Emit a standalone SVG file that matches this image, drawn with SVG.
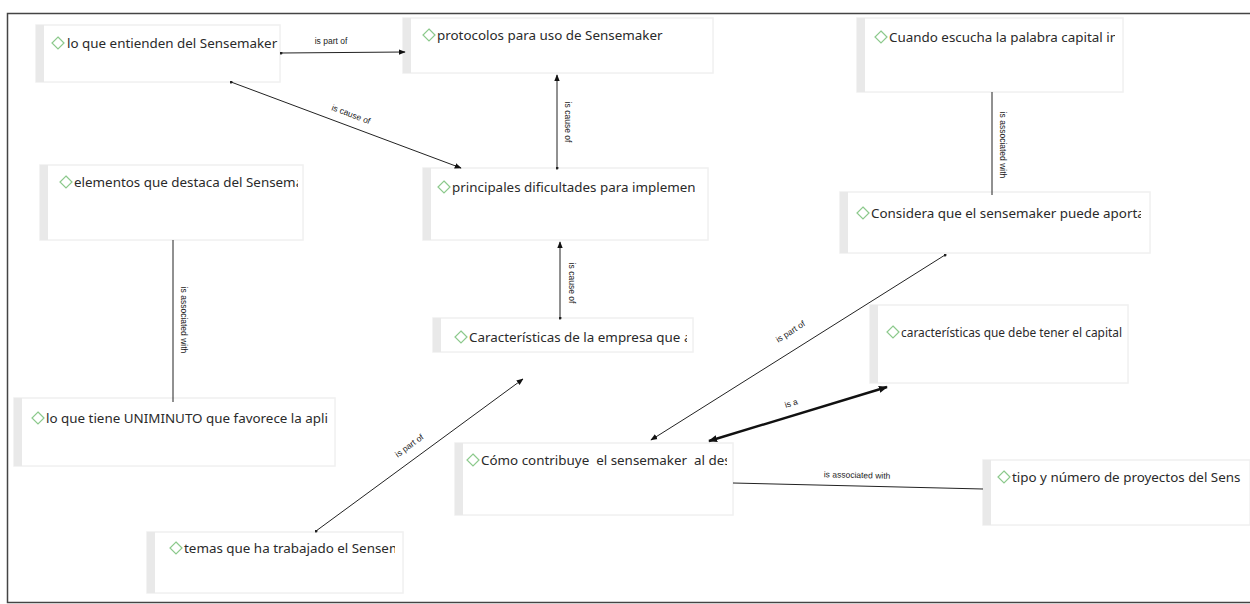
<svg xmlns="http://www.w3.org/2000/svg" width="1250" height="604" viewBox="0 0 1250 604">
  <style>
    .box { fill: #ffffff; stroke: #f0f0f0; stroke-width: 1.5; }
    .strip { fill: #e9e9e9; }
    .dia { fill: none; stroke: #8cc98c; stroke-width: 1.2; }
    .lbl { font-family: "Noto Sans", "Open Sans", sans-serif; font-size: 13.4px; fill: #2a2a2a; white-space: pre; }
    .edge { stroke: #222222; stroke-width: 1; fill: none; }
    .edge-bold { stroke: #111111; stroke-width: 2.4; fill: none; }
    .elbl { font-family: "Liberation Sans", Arial, sans-serif; font-size: 8.5px; fill: #222222; }
  </style>
  <defs>
    <marker id="arrow" viewBox="0 0 10 10" refX="9" refY="5" markerWidth="7" markerHeight="7" orient="auto" markerUnits="userSpaceOnUse">
      <path d="M0,1 L10,5 L0,9 z" fill="#111111"/>
    </marker>
    <marker id="arrowBig" viewBox="0 0 10 10" refX="9" refY="5" markerWidth="9" markerHeight="9" orient="auto-start-reverse" markerUnits="userSpaceOnUse">
      <path d="M0,1 L10,5 L0,9 z" fill="#111111"/>
    </marker>
    <marker id="dot" viewBox="0 0 4 4" refX="2" refY="2" markerWidth="3" markerHeight="3" markerUnits="userSpaceOnUse">
      <circle cx="2" cy="2" r="2" fill="#222222"/>
    </marker>
    <path id="diamond" d="M0,-6 L6,0 L0,6 L-6,0 z"/>
    <clipPath id="c1"><rect x="36" y="25" width="243" height="57"/></clipPath>
    <clipPath id="c2"><rect x="403" y="18" width="300" height="55"/></clipPath>
    <clipPath id="c3"><rect x="423" y="168" width="272" height="72"/></clipPath>
    <clipPath id="c4"><rect x="857" y="18" width="258" height="74"/></clipPath>
    <clipPath id="c5"><rect x="840" y="192" width="301" height="61"/></clipPath>
    <clipPath id="c6"><rect x="40" y="165" width="258" height="75"/></clipPath>
    <clipPath id="c7"><rect x="14" y="398" width="315" height="68"/></clipPath>
    <clipPath id="c8"><rect x="433" y="318" width="254" height="34"/></clipPath>
    <clipPath id="c9"><rect x="870" y="305" width="256" height="78"/></clipPath>
    <clipPath id="c10"><rect x="455" y="443" width="272" height="72"/></clipPath>
    <clipPath id="c11"><rect x="983" y="460" width="264" height="65"/></clipPath>
    <clipPath id="c12"><rect x="147" y="532" width="248" height="61"/></clipPath>
  </defs>

  <!-- canvas frame -->
  <rect x="0" y="0" width="1250" height="604" fill="#ffffff"/>
  <path d="M1250,13.5 H7.5 V602.5 H1250" fill="none" stroke="#444444" stroke-width="1.5"/>

  <!-- nodes -->
  <g id="n1">
    <rect class="box" x="36" y="25" width="244" height="57"/>
    <rect class="strip" x="36" y="25" width="8" height="57"/>
    <use href="#diamond" class="dia" x="58" y="43"/>
    <text class="lbl" x="67" y="48" clip-path="url(#c1)">lo que entienden del Sensemaker</text>
  </g>
  <g id="n2">
    <rect class="box" x="403" y="18" width="310" height="55"/>
    <rect class="strip" x="403" y="18" width="8" height="55"/>
    <use href="#diamond" class="dia" x="429" y="35"/>
    <text class="lbl" x="437" y="40" clip-path="url(#c2)">protocolos para uso de Sensemaker</text>
  </g>
  <g id="n3">
    <rect class="box" x="423" y="168" width="285" height="72"/>
    <rect class="strip" x="423" y="168" width="8" height="72"/>
    <use href="#diamond" class="dia" x="444" y="187"/>
    <text class="lbl" x="452" y="192" clip-path="url(#c3)">principales dificultades para implemen</text>
  </g>
  <g id="n4">
    <rect class="box" x="857" y="18" width="266" height="74"/>
    <rect class="strip" x="857" y="18" width="8" height="74"/>
    <use href="#diamond" class="dia" x="881" y="37"/>
    <text class="lbl" x="889" y="42" clip-path="url(#c4)">Cuando escucha la palabra capital in</text>
  </g>
  <g id="n5">
    <rect class="box" x="840" y="192" width="310" height="61"/>
    <rect class="strip" x="840" y="192" width="8" height="61"/>
    <use href="#diamond" class="dia" x="863" y="213"/>
    <text class="lbl" x="871" y="218" clip-path="url(#c5)">Considera que el sensemaker puede aporta</text>
  </g>
  <g id="n6">
    <rect class="box" x="40" y="165" width="263" height="75"/>
    <rect class="strip" x="40" y="165" width="8" height="75"/>
    <use href="#diamond" class="dia" x="66" y="182"/>
    <text class="lbl" x="74" y="187" clip-path="url(#c6)">elementos que destaca del Sensema</text>
  </g>
  <g id="n7">
    <rect class="box" x="14" y="398" width="321" height="68"/>
    <rect class="strip" x="14" y="398" width="8" height="68"/>
    <use href="#diamond" class="dia" x="38" y="418"/>
    <text class="lbl" x="46" y="423" clip-path="url(#c7)">lo que tiene UNIMINUTO que favorece la apli</text>
  </g>
  <g id="n8">
    <rect class="box" x="433" y="318" width="260" height="34"/>
    <rect class="strip" x="433" y="318" width="8" height="34"/>
    <use href="#diamond" class="dia" x="461" y="337"/>
    <text class="lbl" x="469" y="342" clip-path="url(#c8)">Características de la empresa que a</text>
  </g>
  <g id="n9">
    <rect class="box" x="870" y="305" width="258" height="78"/>
    <rect class="strip" x="870" y="305" width="8" height="78"/>
    <use href="#diamond" class="dia" x="893" y="332"/>
    <text class="lbl" x="901" y="337" textLength="221" lengthAdjust="spacingAndGlyphs" clip-path="url(#c9)">características que debe tener el capital</text>
  </g>
  <g id="n10">
    <rect class="box" x="455" y="443" width="278" height="72"/>
    <rect class="strip" x="455" y="443" width="8" height="72"/>
    <use href="#diamond" class="dia" x="473" y="460"/>
    <text class="lbl" x="481" y="465" clip-path="url(#c10)">Cómo contribuye  el sensemaker  al des</text>
  </g>
  <g id="n11">
    <rect class="box" x="983" y="460" width="267" height="65"/>
    <rect class="strip" x="983" y="460" width="8" height="65"/>
    <use href="#diamond" class="dia" x="1004" y="477"/>
    <text class="lbl" x="1012" y="482" clip-path="url(#c11)">tipo y número de proyectos del Sens</text>
  </g>
  <g id="n12">
    <rect class="box" x="147" y="532" width="256" height="61"/>
    <rect class="strip" x="147" y="532" width="8" height="61"/>
    <use href="#diamond" class="dia" x="176" y="548"/>
    <text class="lbl" x="184" y="553" clip-path="url(#c12)">temas que ha trabajado el Sensem</text>
  </g>

  <!-- connectors -->
  <g id="connectors">
    <line class="edge" x1="281" y1="53" x2="405" y2="52" marker-start="url(#dot)" marker-end="url(#arrow)"/>
    <text class="elbl" x="331" y="44" text-anchor="middle">is part of</text>

    <line class="edge" x1="231" y1="82" x2="461" y2="168" marker-start="url(#dot)" marker-end="url(#arrow)"/>
    <text class="elbl" transform="translate(350,117) rotate(20.5)" text-anchor="middle">is cause of</text>

    <line class="edge" x1="557" y1="168" x2="557" y2="75" marker-start="url(#dot)" marker-end="url(#arrow)"/>
    <text class="elbl" transform="translate(565,122) rotate(90)" text-anchor="middle">is cause of</text>

    <line class="edge" x1="560" y1="318" x2="560" y2="242" marker-start="url(#dot)" marker-end="url(#arrow)"/>
    <text class="elbl" transform="translate(569,283) rotate(90)" text-anchor="middle">is cause of</text>

    <line class="edge" x1="173" y1="240" x2="173" y2="402"/>
    <text class="elbl" transform="translate(181,320) rotate(90)" text-anchor="middle">is associated with</text>

    <line class="edge" x1="992" y1="92" x2="992" y2="195"/>
    <text class="elbl" transform="translate(1000,145) rotate(90)" text-anchor="middle">is associated with</text>

    <line class="edge" x1="945" y1="255" x2="651" y2="440" marker-start="url(#dot)" marker-end="url(#arrow)"/>
    <text class="elbl" transform="translate(792,334) rotate(-32)" text-anchor="middle">is part of</text>

    <line class="edge-bold" x1="709" y1="441" x2="887" y2="387" marker-start="url(#arrowBig)" marker-end="url(#arrowBig)"/>
    <text class="elbl" transform="translate(792,406) rotate(-17)" text-anchor="middle">is a</text>

    <line class="edge" x1="733" y1="483" x2="983" y2="489"/>
    <text class="elbl" transform="translate(857,478) rotate(1.4)" text-anchor="middle">is associated with</text>

    <line class="edge" x1="316" y1="531" x2="523" y2="379" marker-start="url(#dot)" marker-end="url(#arrow)"/>
    <text class="elbl" transform="translate(411,448) rotate(-36.3)" text-anchor="middle">is part of</text>
  </g>
</svg>
